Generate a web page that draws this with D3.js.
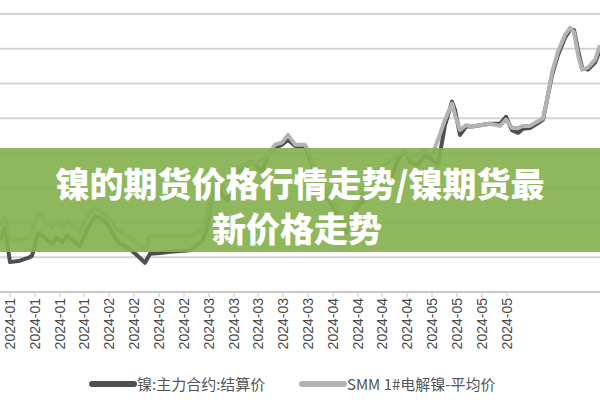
<!DOCTYPE html>
<html><head><meta charset="utf-8">
<script src="https://cdn.jsdelivr.net/npm/d3@7"></script>
<style>body{margin:0;background:#fff}svg{display:block}</style></head>
<body><svg id="c" width="600" height="400"></svg>
<script>
const pos = [0,5,10,20,28,32,38,45,52,57,62,67,72,80,88,95,100,107,112,118,125,133,140,145,150,160,170,180,190,198,203,208,212,218,222,228,232,238,245,250,256,262,268,275,282,288,295,305,310,315,320,325,332,340,346,350,358,365,372,378,385,392,398,405,410,418,425,432,438,445,452,455,460,466,472,480,490,500,506,512,518,523,530,537,543,547,552,558,565,570,574,578,582,588,595,600];
const futures = [127.5,129.2,124.3,124.5,124.9,125.2,128.5,127.8,126.9,127.8,127.1,128.1,127.5,126.6,129.2,130.9,130.7,129.8,128.6,127.2,126.6,125.8,124.9,124.2,125.5,125.6,125.8,125.9,126.0,126.9,127.5,129.6,134.0,135.4,134.0,133.2,136.1,137.3,137.9,138.7,138.3,137.3,139.7,140.7,141.2,141.9,141.0,140.9,139.0,136.8,135.4,134.0,132.5,130.4,128.6,130.4,132.5,133.2,134.0,135.4,136.1,136.8,139.0,140.4,138.7,138.3,139.7,139.0,138.3,144.0,147.4,146.2,142.6,143.8,143.8,144.0,144.2,144.2,145.2,143.3,142.9,143.5,143.6,144.2,144.8,147.6,151.2,154.1,156.6,157.7,157.7,154.8,152.3,152.0,153.0,154.8];
const smm = [129.6,130.7,127.5,127.5,127.8,128.6,131.5,130.1,129.2,130.1,129.4,130.4,129.6,128.6,131.1,132.1,131.7,130.7,130.1,128.9,128.2,127.5,126.8,126.0,128.1,128.1,128.1,128.1,128.1,128.6,128.9,131.8,134.7,136.1,135.4,134.4,136.8,137.9,138.3,138.7,138.6,139.0,139.7,141.2,141.5,142.6,141.2,141.2,139.7,137.6,136.1,134.7,133.2,131.1,129.6,131.1,133.2,134.7,136.1,137.6,138.3,139.0,139.7,140.4,139.3,139.7,140.4,139.7,141.9,144.8,147.1,145.5,143.3,144.0,143.8,144.0,144.2,143.9,144.8,143.6,143.6,143.9,143.9,144.5,145.0,147.6,151.6,154.6,157.0,158.0,157.4,154.1,152.0,152.3,153.4,155.5];
const tickLabels = ["2024-01","2024-01","2024-01","2024-01","2024-02","2024-02","2024-02","2024-02","2024-03","2024-03","2024-03","2024-03","2024-03","2024-04","2024-04","2024-04","2024-04","2024-05","2024-05","2024-05","2024-05"];
const tickPos = [10,35,60,84,109,134,159,184,209,234,258,283,308,333,358,382,407,432,457,482,507];
const series = ["镍:主力合约:结算价","SMM 1#电解镍-平均价"];
const title = ["镍的期货价格行情走势/镍期货最","新价格走势"];

const svg = d3.select("#c");
const x = d3.scaleLinear().domain([0,600]).range([0,600]);
const y = d3.scaleLinear().domain([120,160]).range([292,14]);
svg.append("g").selectAll("line").data(d3.range(120,161,5)).join("line")
  .attr("x1",0).attr("x2",600).attr("y1",d=>y(d)).attr("y2",d=>y(d))
  .attr("stroke",d=>d===120?"#c8c8c8":"#d4d4d4").attr("stroke-width",2);
const ax = svg.append("g");
ax.selectAll("line").data(tickPos).join("line")
  .attr("x1",d=>x(d)).attr("x2",d=>x(d)).attr("y1",292).attr("y2",297).attr("stroke","#c8c8c8");
ax.selectAll("text").data(tickLabels).join("text")
  .attr("transform",(d,i)=>`translate(${x(tickPos[i])+5},298) rotate(-90)`)
  .attr("text-anchor","end").attr("font-family","Liberation Sans, Arial, sans-serif")
  .attr("font-size",14).attr("fill","#4a4a4a").text(d=>d);
const line = d3.line().x((d,i)=>x(pos[i])).y(d=>y(d)).curve(d3.curveLinear);
svg.append("path").datum(futures).attr("d",line).attr("fill","none").attr("stroke","#4f4f4f").attr("stroke-width",4).attr("stroke-linejoin","round");
svg.append("path").datum(smm).attr("d",line).attr("fill","none").attr("stroke","#b3b3b3").attr("stroke-width",4).attr("stroke-linejoin","round");
// legend
const lg = [[92,"#4f4f4f"],[302,"#b3b3b3"]];
series.forEach((s,i)=>{
  svg.append("line").attr("x1",lg[i][0]).attr("x2",lg[i][0]+42).attr("y1",384).attr("y2",384)
    .attr("stroke",lg[i][1]).attr("stroke-width",6).attr("stroke-linecap","round");
  svg.append("text").attr("x",lg[i][0]+45).attr("y",390).attr("font-size",15)
    .attr("font-family","Noto Sans CJK SC, sans-serif").attr("fill","#555").text(s);
});
// banner
svg.append("rect").attr("x",0).attr("y",148).attr("width",600).attr("height",104).attr("fill","#86b14f").attr("opacity",0.92);
title.forEach((t,i)=>{
  svg.append("text").attr("x",i===0?300:297).attr("y",197+i*45).attr("text-anchor","middle")
    .attr("font-family","Noto Sans CJK SC, sans-serif").attr("font-weight","900").attr("font-size",34)
    .attr("fill","#fff").text(t);
});
</script></body></html>
